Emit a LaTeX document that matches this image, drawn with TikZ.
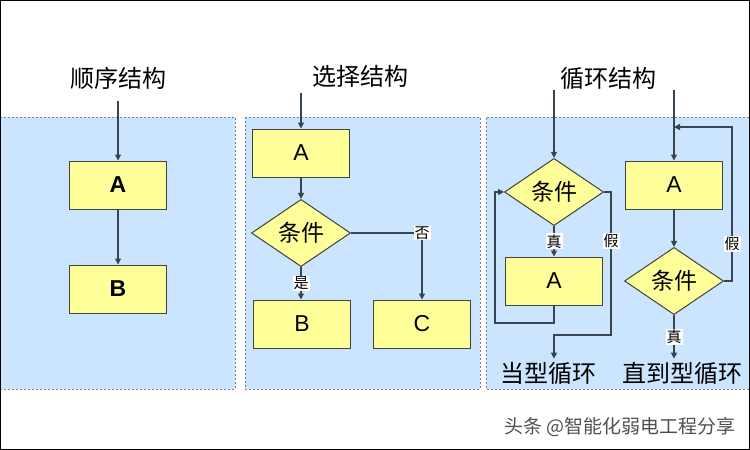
\documentclass[tikz,border=0pt]{standalone}
\usepackage{fontspec}
\setmainfont{Liberation Sans}
\newfontfamily\cjkfont{Noto Sans CJK SC}
\usepackage{tikz}
\usepackage{xcolor}
\usetikzlibrary{positioning, arrows.meta, shapes.geometric}
\definecolor{panelblue}{RGB}{204, 229, 255}
\definecolor{boxyellow}{RGB}{255, 255, 153}
\definecolor{edgegray}{RGB}{64, 64, 64}
\definecolor{flowline}{RGB}{55, 68, 82}
\definecolor{dotgray}{RGB}{128, 128, 128}
\definecolor{markgray}{RGB}{80, 80, 80}
\tikzset{
    panel/.style={fill=panelblue, draw=dotgray, line width=1pt, dash pattern=on 2pt off 2pt},
    stepbox/.style={rectangle, draw=edgegray, fill=boxyellow, line width=1pt, minimum width=97pt, minimum height=48pt, inner sep=0pt, font=\fontsize{23}{25}\selectfont},
    testnode/.style={diamond, draw=edgegray, fill=boxyellow, line width=1pt, minimum width=99pt, minimum height=63pt, inner sep=0pt, font=\cjkfont\fontsize{23}{25}\selectfont},
    headline/.style={font=\cjkfont\fontsize{24}{28}\selectfont, inner sep=0pt},
    endtext/.style={font=\cjkfont\fontsize{24}{28}\selectfont, inner sep=3pt},
    branch/.style={fill=white, inner sep=1pt, font=\cjkfont\fontsize{15}{17}\selectfont},
    flow/.style={draw=flowline, line width=1.2pt, -{Triangle[length=6pt, width=6pt]}}
}

\begin{document}
\begin{tikzpicture}[x=1pt, y=-1pt]
    \useasboundingbox (0,0) rectangle (750,450);
    % panels
    \fill[white] (0,0) rectangle (750,450);
    \path[panel] (0,117) rectangle (235,389);
    \path[panel] (245,117) rectangle (480,389);
    \fill[panelblue] (486,117) rectangle (749,389);
    \draw[panel, fill=none] (749,117) -- (486,117) -- (486,389) -- (749,389);

    % sequence
    \node[headline] (seqtitle) at (118,78) {顺序结构};
    \coordinate (seqin) at (118,101);
    \node[stepbox] (seqA) at (118,185) {\bfseries A};
    \node[stepbox] (seqB) at (118,289) {\bfseries B};
    \draw[flow] (seqin) -- (seqA.north);
    \draw[flow] (seqA.south) -- (seqB.north);

    % selection
    \node[headline] (seltitle) at (360,76) {选择结构};
    \coordinate (selin) at (301,93);
    \node[stepbox] (selA) at (301,153) {A};
    \node[testnode] (seltest) at (301,233) {条件};
    \node[stepbox] (selB) at (302,324) {B};
    \node[stepbox] (selC) at (422,324) {C};
    \draw[flow] (selin) -- (selA.north);
    \draw[flow] (selA.south) -- (seltest.north);
    \draw[flow] (seltest.south) -- node[branch] {是} (selB.north -| seltest.south);
    \draw[flow] (seltest.east) -| node[branch] {否} (selC.north);

    % while loop
    \node[headline] (looptitle) at (608,78) {循环结构};
    \coordinate (whin) at (554,90);
    \node[testnode] (whtest) at (554,192) {条件};
    \node[stepbox] (whA) at (554,281) {A};
    \node[endtext] (whdone) at (548,373) {当型循环};
    \coordinate (whloop) at (495,323);
    \coordinate (whexit) at (611,335);
    \draw[flow] (whin) -- (whtest.north);
    \draw[flow] (whtest.south) -- node[branch] {真} (whA.north);
    \draw[flow] (whA.south) |- (whloop) |- (whtest.west);
    \draw[flow] (whtest.east) -| node[branch, pos=0.67] {假} (whexit) -| (whdone.north -| whA.south);

    % until loop
    \coordinate (untilin) at (674,90);
    \coordinate (untiljoin) at (674,127);
    \coordinate (untilback) at (732,127);
    \node[stepbox] (untilA) at (674,185) {A};
    \node[testnode] (untiltest) at (674,281) {条件};
    \node[endtext] (untildone) at (682,373) {直到型循环};
    \draw[flow] (untilin) -- (untilA.north);
    \draw[flow] (untilA.south) -- (untiltest.north);
    \draw[flow] (untiltest.east) -| node[branch, pos=0.62] {假} (untilback) -- (untiljoin);
    \draw[flow] (untiltest.south) -- node[branch] {真} (untildone.north -| untiltest.south);

    \node[font=\cjkfont\fontsize{19}{21}\selectfont, text=markgray] (mark) at (620,427) {头条 @智能化弱电工程分享};
    \draw[black, line width=2.5pt] (0,0) rectangle (750,450);
\end{tikzpicture}
\end{document}
